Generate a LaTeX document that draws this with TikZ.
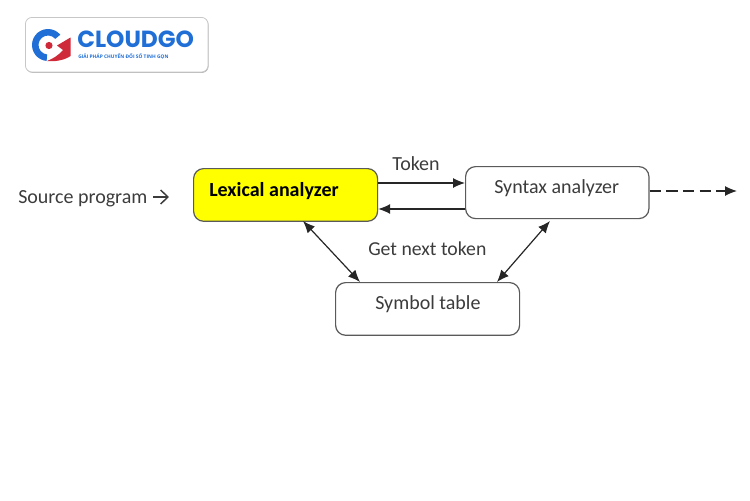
\documentclass[tikz,border=0pt]{standalone}
\usepackage{fontspec}
\setmainfont{Carlito}
\newfontfamily\logofont{Open Sans}
\newfontfamily\brandfont{Poppins}
\usetikzlibrary{arrows.meta,shadows,calc}
\definecolor{cgblue}{HTML}{1F6FD6}
\definecolor{cgred}{HTML}{CF2A3A}
\definecolor{ink}{HTML}{3C3C3C}
\definecolor{edge}{HTML}{5A5A5A}
\definecolor{boxyellow}{HTML}{FFFF00}
\tikzset{
  px/.style={x=0.75pt,y=-0.75pt},
  procbox/.style={draw=edge,line width=0.9pt,rounded corners=7.5pt,fill=white,inner sep=0pt,anchor=north west},
  lab/.style={text=ink,font=\fontsize{15}{17}\selectfont,inner sep=0pt,anchor=base west},
  flow/.style={draw=black!85,line width=0.9pt,-{Latex[length=9pt,width=7.5pt]}},
  bothflow/.style={draw=black!85,line width=0.9pt,{Latex[length=9pt,width=7.5pt]}-{Latex[length=9pt,width=7.5pt]}},
}
\begin{document}
\begin{tikzpicture}[px]
\useasboundingbox (0,0) rectangle (750,500);
% logo card
\node[draw=black!22,line width=0.6pt,fill=white,rounded corners=5pt,inner sep=0pt,anchor=north west,
  minimum width=137pt,minimum height=41pt,
  drop shadow={shadow xshift=0.4pt,shadow yshift=-0.6pt,opacity=0.3,fill=black}] (card) at (25,17) {};
% logo mark
\fill[cgblue] (48,45) ++(-40:16) arc (-40:-265:16) -- ($(48,45)+(-265:9.5)$) arc (-265:-40:9.5) -- cycle;
\fill[cgred] (70.5,37.5) -- (57,45.5) -- (63,50) .. controls (58,56) and (52,59) .. (47,61) .. controls (55,62) and (65,60) .. (70.5,56) -- cycle;
\fill[cgred] (49,45.5) circle (3.6);
\node[inner sep=0pt,anchor=base west,text=cgblue,font=\brandfont\bfseries\fontsize{17.5}{19}\selectfont] (brand) at (77,47.5) {CLOUDGO};
\node[inner sep=0pt,anchor=base west,text=cgblue,font=\logofont\bfseries\fontsize{3.65}{5}\selectfont] (tagline) at (78,58) {GIẢI PHÁP CHUYỂN ĐỔI SỐ TINH GỌN};
% boxes
\node[procbox,fill=boxyellow,minimum width=138pt,minimum height=39.5pt] (lex) at (193,168) {};
\node[procbox,minimum width=137.5pt,minimum height=39pt] (syn) at (465,166) {};
\node[procbox,minimum width=138pt,minimum height=39.5pt] (sym) at (335,282) {};
% labels
\node[lab] (src) at (18,203) {Source program};
\node[lab,text=black,font=\bfseries\fontsize{15}{17}\selectfont] (lexl) at (209,196.5) {Lexical analyzer};
\node[lab] (synl) at (494,193) {Syntax analyzer};
\node[lab] (syml) at (375,309) {Symbol table};
\node[lab] (tok) at (392,170.5) {Token};
\node[lab,font=\fontsize{14.8}{17}\selectfont] (next) at (368,255) {Get next token};
% connector ends
\coordinate (srcEnd) at (169,197);
\coordinate (srcStart) at (153,197);
\coordinate (lexTop) at (lex.east |- 0,183);
\coordinate (synTop) at (syn.west |- 0,183);
\coordinate (synBot) at (syn.west |- 0,209);
\coordinate (lexBot) at (lex.east |- 0,209);
\coordinate (lexS) at (303,221);
\coordinate (symNW) at (360,282);
\coordinate (synS) at (550,221);
\coordinate (symN) at (497,282);
\coordinate (out) at (737,191);
\coordinate (synE) at (syn.east |- out);
% connectors
\draw[draw=ink,line width=1.1pt,-{Straight Barb[length=5.5pt,width=10.5pt]}] (srcStart) -- (srcEnd);
\draw[flow] (lexTop) -- (synTop);
\draw[flow] (synBot) -- (lexBot);
\draw[bothflow] (lexS) -- (symNW);
\draw[bothflow] (synS) -- (symN);
\draw[flow,dash pattern=on 8.5pt off 4pt] (synE) -- (out);
\end{tikzpicture}
\end{document}
